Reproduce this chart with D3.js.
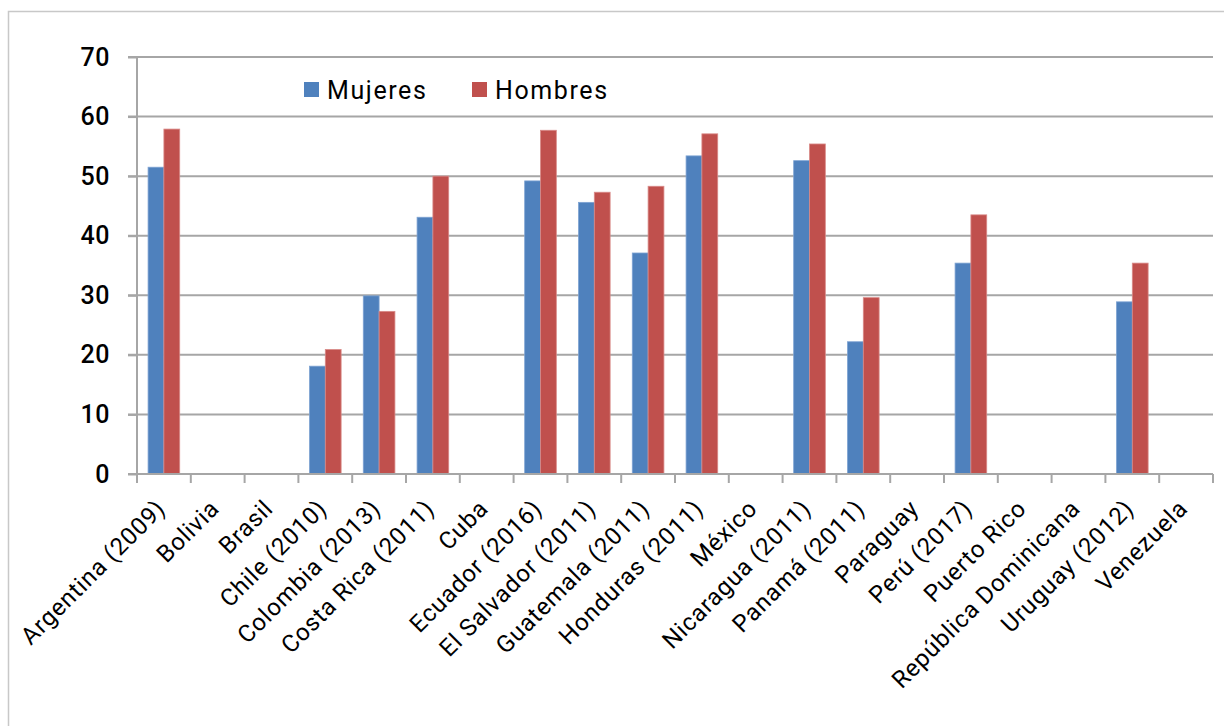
<!DOCTYPE html>
<html>
<head>
<meta charset="utf-8">
<script src="https://cdn.jsdelivr.net/npm/d3@7"></script>
<style>
  html, body { margin: 0; padding: 0; background: #fff; }
  svg { display: block; font-family: "Roboto", "Liberation Sans", sans-serif; font-weight: 400; }
</style>
</head>
<body>
<svg id="chart" width="1224" height="726"></svg>
<script>
const categories = ["Argentina (2009)", "Bolivia", "Brasil", "Chile (2010)", "Colombia (2013)", "Costa Rica (2011)", "Cuba", "Ecuador (2016)", "El Salvador (2011)", "Guatemala (2011)", "Honduras (2011)", "México", "Nicaragua (2011)", "Panamá (2011)", "Paraguay", "Perú  (2017)", "Puerto Rico", "República Dominicana", "Uruguay (2012)", "Venezuela"];
const mujeres = [51.5, null, null, 18.1, 29.9, 43.1, null, 49.2, 45.6, 37.1, 53.4, null, 52.6, 22.2, null, 35.4, null, null, 28.9, null];
const hombres = [57.9, null, null, 20.9, 27.3, 50.0, null, 57.7, 47.3, 48.3, 57.1, null, 55.4, 29.6, null, 43.5, null, null, 35.4, null];
const seriesNames = ["Mujeres", "Hombres"];
const seriesColors = ["#4f81bd", "#c0504d"];
const yTicks = [0, 10, 20, 30, 40, 50, 60, 70];

(function () {
const svg = d3.select("#chart");
const pl = 137, pr = 1213, pt = 57, pb = 474;

// outer frame
svg.append("rect").attr("x", 8.5).attr("y", 11.5).attr("width", 1230).attr("height", 730)
  .attr("fill", "none").attr("stroke", "#c8c8c8").attr("stroke-width", 1.5);

const x = d3.scaleBand().domain(categories).range([pl, pr]).paddingInner(0).paddingOuter(0);
const y = d3.scaleLinear().domain([0, 70]).range([pb, pt]);
const inner = d3.scaleBand().domain(seriesNames).range([0, x.bandwidth()]).paddingInner(0).paddingOuter(0.7);

// gridlines
svg.append("g").selectAll("line").data(yTicks.filter(d => d > 0)).join("line")
  .attr("x1", pl - 9).attr("x2", pr)
  .attr("y1", d => y(d)).attr("y2", d => y(d))
  .attr("stroke", "#a6a6a6").attr("stroke-width", 2);

// bars
const rows = categories.map((c, i) => ({ c, vals: [mujeres[i], hombres[i]] }));
const g = svg.append("g");
rows.forEach(r => {
  r.vals.forEach((v, j) => {
    if (v == null) return;
    g.append("rect")
      .attr("x", x(r.c) + inner(seriesNames[j]))
      .attr("y", y(v))
      .attr("width", inner.bandwidth())
      .attr("height", y(0) - y(v))
      .attr("fill", seriesColors[j])
      .attr("stroke", j === 0 ? "#7ea3d3" : "#d98a88")
      .attr("stroke-width", 0.8);
  });
});

// y axis
const yAxis = d3.axisLeft(y).tickValues(yTicks).tickSize(9).tickPadding(18).tickFormat(d3.format("d"));
const ya = svg.append("g").attr("transform", `translate(${pl},0)`).call(yAxis);
ya.select(".domain").attr("stroke", "#a6a6a6").attr("stroke-width", 2).attr("d", `M0,${pt}V${pb}`);
ya.selectAll(".tick line").attr("stroke", "#a6a6a6").attr("stroke-width", 2);
ya.selectAll(".tick text").attr("font-size", 25).attr("fill", "#000")
  .attr("font-family", "Roboto").attr("font-weight", 500).attr("letter-spacing", 0.5);

// x axis line + ticks at boundaries
const xa = svg.append("g");
xa.append("line").attr("x1", pl - 9).attr("x2", pr).attr("y1", pb).attr("y2", pb)
  .attr("stroke", "#a6a6a6").attr("stroke-width", 2);
const bounds = categories.map(c => x(c)).concat([pr]);
xa.selectAll("line.tk").data(bounds).join("line").attr("class", "tk")
  .attr("x1", d => d).attr("x2", d => d).attr("y1", pb).attr("y2", pb + 9)
  .attr("stroke", "#a6a6a6").attr("stroke-width", 2);

// x labels
xa.selectAll("text").data(categories).join("text")
  .attr("transform", d => `translate(${x(d) + x.bandwidth() / 2 - 3},${pb + 30}) rotate(-45)`)
  .attr("text-anchor", "end")
  .attr("dy", "0.35em")
  .attr("font-size", 24)
  .attr("letter-spacing", 0.8)
  .attr("fill", "#000")
  .text(d => d);

// legend
const legendItems = [{ name: "Mujeres", color: seriesColors[0], x: 304 }, { name: "Hombres", color: seriesColors[1], x: 472 }];
const lg = svg.append("g");
legendItems.forEach(it => {
  lg.append("rect").attr("x", it.x).attr("y", 82).attr("width", 15).attr("height", 15).attr("fill", it.color);
  lg.append("text").attr("x", it.x + 23).attr("y", 99).attr("font-size", 25)
    .attr("letter-spacing", 1.6).attr("fill", "#000").text(it.name);
});
})();
</script>
</body>
</html>
